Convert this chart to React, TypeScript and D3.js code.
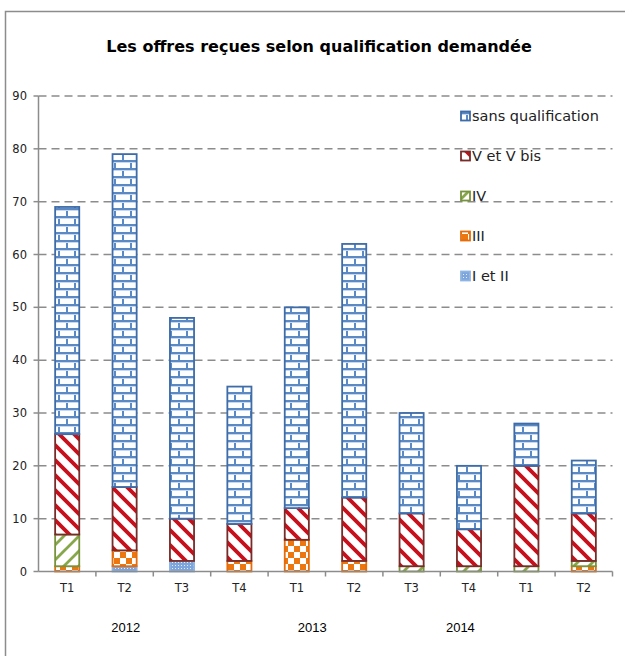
import React from "react";
import * as d3 from "d3";

const categories = ["T1", "T2", "T3", "T4", "T1", "T2", "T3", "T4", "T1", "T2"];
const years = ["2012", "2013", "2014"];
const yearPositions = [1.52, 4.77, 7.35]; // in category units from left edge of plot
const seriesKeys = ["iEtII", "iii", "iv", "vEtVbis", "sans"];
const seriesLabels = ["I et II", "III", "IV", "V et V bis", "sans qualification"];
const iEtII = [0, 1, 2, 0, 0, 0, 0, 0, 0, 0];
const iii = [1, 3, 0, 2, 6, 2, 0, 0, 0, 1];
const iv = [6, 0, 0, 0, 0, 0, 1, 1, 1, 1];
const vEtVbis = [19, 12, 8, 7, 6, 12, 10, 7, 19, 9];
const sans = [43, 63, 38, 26, 38, 48, 19, 12, 8, 10];
const yTicks = [0, 10, 20, 30, 40, 50, 60, 70, 80, 90];
const title = "Les offres reçues selon qualification demandée";

const W = 625;
const H = 656;
const plot = { left: 38.5, right: 612.5, top: 96, bottom: 571.5 };

const fills: Record<string, string> = {
  iEtII: "url(#patDots)",
  iii: "url(#patChecker)",
  iv: "url(#patGreen)",
  vEtVbis: "url(#patRed)",
  sans: "url(#patBrick)",
};
const strokes: Record<string, string> = {
  iEtII: "#8eb4e3",
  iii: "#e46c0a",
  iv: "#77933c",
  vEtVbis: "#772c2a",
  sans: "#3e6ca8",
};

export default function App() {
  const rows = categories.map((c, i) => ({
    idx: i,
    iEtII: iEtII[i],
    iii: iii[i],
    iv: iv[i],
    vEtVbis: vEtVbis[i],
    sans: sans[i],
  }));
  const stack = d3.stack<any>().keys(seriesKeys);
  const stacked = stack(rows);

  const x = d3
    .scaleBand<number>()
    .domain(categories.map((_, i) => i))
    .range([plot.left, plot.right])
    .padding(0);
  const y = d3.scaleLinear().domain([0, 90]).range([plot.bottom, plot.top]);
  const barW = x.bandwidth() * 0.42;
  const step = x.step();

  const font = "'DejaVu Sans', sans-serif";

  return (
    <svg
      width={W}
      height={H}
      style={{ position: "absolute", left: 0, top: 0, background: "#fff" }}
    >
      <defs>
        <pattern id="patBrick" patternUnits="userSpaceOnUse" width={16} height={16}>
          <rect width={16} height={16} fill="#fdfeff" />
          <g stroke="#5b89c4" strokeWidth={2} fill="none">
            <line x1={0} y1={1} x2={16} y2={1} />
            <line x1={0} y1={9} x2={16} y2={9} />
            <line x1={3} y1={1} x2={3} y2={9} />
            <line x1={11} y1={9} x2={11} y2={17} />
          </g>
          <g stroke="#c6d7ee" strokeWidth={1} fill="none">
            <line x1={0} y1={2.5} x2={16} y2={2.5} />
            <line x1={0} y1={10.5} x2={16} y2={10.5} />
          </g>
        </pattern>
        <pattern id="patRed" patternUnits="userSpaceOnUse" width={15} height={15}>
          <rect width={15} height={15} fill="#fff" />
          <path
            d="M-4,11 l8,8 M0,0 l15,15 M11,-4 l8,8"
            stroke="#c8101c"
            strokeWidth={3.8}
          />
        </pattern>
        <pattern id="patGreen" patternUnits="userSpaceOnUse" width={15} height={15}>
          <rect width={15} height={15} fill="#fff" />
          <path
            d="M-4,4 l8,-8 M0,15 l15,-15 M11,19 l8,-8"
            stroke="#86a84a"
            strokeWidth={2.8}
          />
        </pattern>
        <pattern id="patChecker" patternUnits="userSpaceOnUse" width={12} height={12}>
          <rect width={12} height={12} fill="#fff" />
          <rect x={0} y={0} width={6} height={6} fill="#ec7610" />
          <rect x={6} y={6} width={6} height={6} fill="#ec7610" />
        </pattern>
        <pattern id="patDots" patternUnits="userSpaceOnUse" width={3} height={3}>
          <rect width={3} height={3} fill="#7ea6dc" />
          <rect x={1} y={1} width={1} height={1} fill="#e4edf8" />
        </pattern>
      </defs>

      {/* chart frame */}
      <rect
        x={5.5}
        y={11.5}
        width={W + 20}
        height={H + 20}
        fill="#fff"
        stroke="#8c8c8c"
        strokeWidth={1.5}
      />

      {/* title */}
      <text
        x={319}
        y={52}
        textAnchor="middle"
        fontFamily={font}
        fontWeight="bold"
        fontSize={16}
        fill="#000"
      >
        {title}
      </text>

      {/* gridlines */}
      {yTicks
        .filter((t) => t > 0)
        .map((t) => (
          <line
            key={"g" + t}
            x1={plot.left}
            x2={plot.right}
            y1={y(t)}
            y2={y(t)}
            stroke="#8c8c8c"
            strokeWidth={1.5}
            strokeDasharray="8,5"
          />
        ))}

      {/* bars */}
      {stacked.map((s) => (
        <g key={s.key}>
          {s.map((d, i) => {
            const v = d[1] - d[0];
            if (v <= 0) return null;
            const cx = (x(i) as number) + x.bandwidth() / 2;
            return (
              <rect
                key={i}
                x={cx - barW / 2}
                y={y(d[1])}
                width={barW}
                height={y(d[0]) - y(d[1])}
                fill={fills[s.key]}
                stroke={strokes[s.key]}
                strokeWidth={1.8}
              />
            );
          })}
        </g>
      ))}

      {/* y axis */}
      <line
        x1={plot.left}
        x2={plot.left}
        y1={plot.top}
        y2={plot.bottom}
        stroke="#8c8c8c"
        strokeWidth={1.5}
      />
      {yTicks.map((t) => (
        <g key={"yt" + t}>
          <line
            x1={plot.left - 5}
            x2={plot.left}
            y1={y(t)}
            y2={y(t)}
            stroke="#8c8c8c"
            strokeWidth={1.5}
          />
          <text
            x={27}
            y={y(t)}
            dy="0.35em"
            textAnchor="end"
            fontFamily={font}
            fontSize={11.5}
            fill="#222"
          >
            {t}
          </text>
        </g>
      ))}

      {/* x axis */}
      <line
        x1={plot.left}
        x2={plot.right}
        y1={plot.bottom}
        y2={plot.bottom}
        stroke="#8c8c8c"
        strokeWidth={1.5}
      />
      {categories.map((_, i) => (
        <line
          key={"xt" + i}
          x1={(x(i) as number) + step}
          x2={(x(i) as number) + step}
          y1={plot.bottom}
          y2={plot.bottom + 5}
          stroke="#8c8c8c"
          strokeWidth={1.5}
        />
      ))}
      {categories.map((c, i) => (
        <text
          key={"xl" + i}
          x={(x(i) as number) + x.bandwidth() / 2}
          y={588}
          dy="0.35em"
          textAnchor="middle"
          fontFamily={font}
          fontSize={11.5}
          fill="#222"
        >
          {c}
        </text>
      ))}
      {years.map((yr, i) => (
        <text
          key={"yr" + yr}
          x={plot.left + yearPositions[i] * step}
          y={627}
          dy="0.35em"
          textAnchor="middle"
          fontFamily="'Liberation Sans', Arial, sans-serif"
          fontSize={13}
          fill="#000"
        >
          {yr}
        </text>
      ))}

      {/* legend */}
      {seriesKeys
        .slice()
        .reverse()
        .map((k, j) => {
          const label = seriesLabels[seriesKeys.indexOf(k)];
          const cy = 116 + j * 40;
          return (
            <g key={"lg" + k}>
              <rect
                x={461}
                y={cy - 4.5}
                width={9}
                height={9}
                fill={fills[k]}
                stroke={strokes[k]}
                strokeWidth={1.8}
              />
              <text
                x={472}
                y={cy}
                dy="0.35em"
                fontFamily={font}
                fontSize={14.5}
                fill="#222"
              >
                {label}
              </text>
            </g>
          );
        })}
    </svg>
  );
}
